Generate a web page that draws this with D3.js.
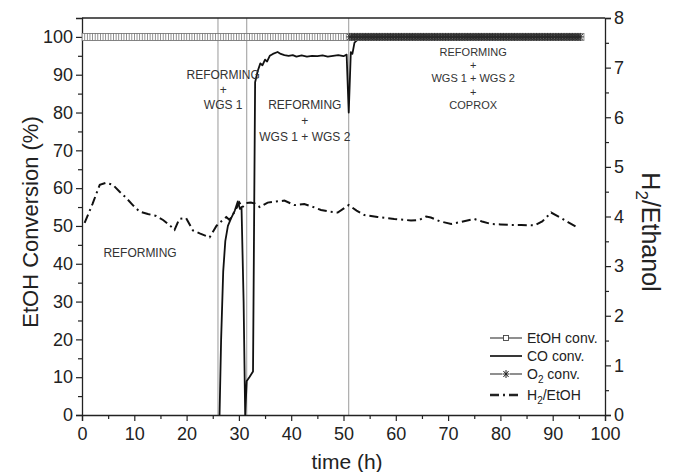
<!DOCTYPE html>
<html>
<head>
<meta charset="utf-8">
<script src="https://cdn.jsdelivr.net/npm/d3@7"></script>
<style>
  body { margin: 0; background: #fff; }
  text { font-family: "Liberation Sans", Arial, sans-serif; }
</style>
</head>
<body>
<div id="chart"></div>
<script>
// sampling times of the EtOH / O2 conversion markers (both sit at 100 %)
const etohTimes = d3.range(0.5, 95.6, 0.5);
const etohConv = etohTimes.map(() => 100);
const o2Times = d3.range(51.2, 95.6, 0.3);
const o2Conv = o2Times.map(() => 100);

// CO conversion (%)
const coTime = [26.3, 26.6, 27.0, 27.4, 27.9, 28.5, 29.2, 29.8, 30.2, 30.5, 30.9, 31.2, 31.5, 32.0, 32.7,
  33.1, 33.6, 34.1, 34.5, 35.0, 35.4, 35.9, 36.5, 37.4, 38.0, 38.7, 39.5, 40.3, 41.0, 42, 43, 44, 45, 46,
  47, 48, 49, 50, 50.6, 51.0, 51.4, 51.7, 52.1, 52.5, 53.0, 94];
const coConv = [0, 20, 38, 46, 50, 52, 54, 56.5, 54.5, 55, 30, 0, 9, 10, 11.5,
  88, 91, 93, 92.5, 94, 93.5, 95, 95.5, 96, 95.5, 95.2, 95, 95.2, 94.8, 95.1, 94.8, 95, 94.9, 95.1,
  94.8, 95, 95.2, 94.9, 95.3, 80, 96, 95.5, 98.5, 99, 100, 100];

// H2/EtOH ratio (right axis)
const h2Time = [0.5, 2.0, 3.4, 4.6, 5.9, 7.2, 8.5, 9.8, 11.0, 12.6, 14.2, 15.5, 16.7, 17.7, 18.6, 19.9,
  21.2, 22.5, 23.7, 24.4, 25.7, 26.6, 27.6, 28.2, 29.2, 30.1, 30.6, 31.4, 32.3, 33.1, 34.0, 35.5, 37.0,
  38.7, 40.6, 42.5, 44.0, 45.7, 47.3, 48.9, 51.0, 52.5, 54.0, 56.5, 59.7, 62.9, 64.5, 65.8, 66.7, 68.5,
  70.6, 72.5, 75.0, 76.5, 78.2, 80, 82.0, 84, 86.5, 88.0, 89.7, 91.6, 93.0, 94.4];
const h2Ratio = [3.87, 4.25, 4.64, 4.68, 4.64, 4.5, 4.37, 4.22, 4.10, 4.05, 4.01, 3.93, 3.83, 3.73, 3.95, 3.97,
  3.72, 3.66, 3.61, 3.58, 3.81, 3.9, 3.99, 3.93, 4.1, 4.28, 4.18, 4.27, 4.28, 4.26, 4.19, 4.28, 4.3,
  4.32, 4.23, 4.25, 4.2, 4.13, 4.1, 4.08, 4.23, 4.12, 4.03, 3.99, 3.95, 3.92, 3.93, 4.0, 3.98, 3.9,
  3.85, 3.89, 3.95, 3.9, 3.85, 3.84, 3.83, 3.83, 3.82, 3.9, 4.08, 3.97, 3.88, 3.80];

// stage boundaries (h)
const stageLines = [26, 31.5, 51];

// stage annotations (x in h, y in % of the first line's baseline)
const stageLabels = [
  {x: 11.1, y: 41.8, lines: ["REFORMING"], size: 12, gap: 15},
  {x: 27.0, y: 88.8, lines: ["REFORMING", "+", "WGS 1"], size: 12, gap: 15},
  {x: 42.6, y: 80.9, lines: ["REFORMING", "+", "WGS 1 + WGS 2"], size: 12, gap: 15.7},
  {x: 74.8, y: 95.0, lines: ["REFORMING", "+", "WGS 1 + WGS 2", "+", "COPROX"], size: 11, gap: 13.3}
];

const legendItems = ["EtOH conv.", "CO conv.", "O2 conv.", "H2/EtOH"];

const W = 677, H = 472;
const margin = {top: 18, right: 72, bottom: 57, left: 82};
const width = W - margin.left - margin.right,
      height = H - margin.top - margin.bottom;

const svg = d3.select("#chart").append("svg")
    .attr("width", W).attr("height", H);
const g = svg.append("g")
    .attr("transform", "translate(" + margin.left + "," + margin.top + ")");

const x = d3.scaleLinear().domain([0, 100]).range([0, width]);
const y = d3.scaleLinear().domain([0, 105]).range([height, 0]);
const y2 = d3.scaleLinear().domain([0, 8]).range([height, 0]);

// stage boundary lines
g.selectAll(".stage").data(stageLines).enter().append("line")
    .attr("x1", d => x(d)).attr("x2", d => x(d))
    .attr("y1", 0).attr("y2", height)
    .attr("stroke", "#9a9a9a").attr("stroke-width", 1);

// axes
function styleAxis(sel) {
  sel.select(".domain").attr("stroke", "#222").attr("stroke-width", 1.3);
  sel.selectAll(".tick line").attr("stroke", "#222").attr("stroke-width", 1.2);
  sel.selectAll(".tick text").attr("fill", "#222")
      .style("font-family", "Liberation Sans, Arial, sans-serif").style("font-size", "18px");
}

const xAxis = g.append("g").attr("transform", "translate(0," + height + ")")
    .call(d3.axisBottom(x).tickValues(d3.range(0, 101, 10)).tickSize(6).tickPadding(6));
g.append("g").attr("transform", "translate(0," + height + ")")
    .call(d3.axisBottom(x).tickValues(d3.range(5, 100, 10)).tickSize(4).tickFormat(""))
    .call(s => s.select(".domain").remove())
    .call(styleAxis);
styleAxis(xAxis);

const yAxis = g.append("g")
    .call(d3.axisLeft(y).tickValues(d3.range(0, 101, 10)).tickSize(6).tickPadding(3));
g.append("g")
    .call(d3.axisLeft(y).tickValues(d3.range(5, 101, 10)).tickSize(4).tickFormat(""))
    .call(s => s.select(".domain").remove())
    .call(styleAxis);
styleAxis(yAxis);

const yAxis2 = g.append("g").attr("transform", "translate(" + width + ",0)")
    .call(d3.axisRight(y2).tickValues(d3.range(0, 9, 1)).tickSize(6).tickPadding(3));
g.append("g").attr("transform", "translate(" + width + ",0)")
    .call(d3.axisRight(y2).tickValues(d3.range(0.5, 8, 1)).tickSize(4).tickFormat(""))
    .call(s => s.select(".domain").remove())
    .call(styleAxis);
styleAxis(yAxis2);

// top frame
g.append("line").attr("x1", 0).attr("x2", width).attr("y1", 0).attr("y2", 0)
    .attr("stroke", "#222").attr("stroke-width", 1.3);

// axis titles
svg.append("text")
    .attr("transform", "translate(38,222) rotate(-90)")
    .attr("text-anchor", "middle").attr("font-size", 22).attr("fill", "#222")
    .text("EtOH Conversion (%)");

const rt = svg.append("text")
    .attr("transform", "translate(642,232) rotate(90)")
    .attr("text-anchor", "middle").attr("font-size", 25).attr("fill", "#222");
rt.append("tspan").text("H");
rt.append("tspan").attr("dy", 6).attr("font-size", 17).text("2");
rt.append("tspan").attr("dy", -6).text("/Ethanol");

svg.append("text")
    .attr("x", 347).attr("y", 469)
    .attr("text-anchor", "middle").attr("font-size", 21).attr("fill", "#222")
    .text("time (h)");

// H2/EtOH dash-dot
const lineH2 = d3.line().x((d, i) => x(h2Time[i])).y(d => y2(d));
g.append("path").datum(h2Ratio)
    .attr("d", lineH2).attr("fill", "none")
    .attr("stroke", "#111").attr("stroke-width", 2)
    .attr("stroke-dasharray", "9,4,2,4");

// CO conversion
const lineCO = d3.line().x((d, i) => x(coTime[i])).y(d => y(d));
g.append("path").datum(coConv)
    .attr("d", lineCO).attr("fill", "none")
    .attr("stroke", "#111").attr("stroke-width", 1.8).attr("stroke-linejoin", "round");

// EtOH conversion squares
g.selectAll(".sq").data(etohConv).enter().append("rect")
    .attr("x", (d, i) => x(etohTimes[i]) - 2.5).attr("y", d => y(d) - 3.5)
    .attr("width", 5).attr("height", 7)
    .attr("fill", "#fff").attr("stroke", "#777").attr("stroke-width", 0.8);

// O2 conversion asterisks
const star = "M-3.5,0H3.5M0,-4V4M-2.6,-3L2.6,3M-2.6,3L2.6,-3";
g.selectAll(".st").data(o2Conv).enter().append("path")
    .attr("transform", (d, i) => "translate(" + x(o2Times[i]) + "," + y(d) + ")")
    .attr("d", star).attr("fill", "none").attr("stroke", "#2a2a2a").attr("stroke-width", 0.9);

// stage annotations
stageLabels.forEach(lab => {
  const t = g.append("text").attr("text-anchor", "middle")
      .attr("font-size", lab.size).attr("fill", "#333");
  lab.lines.forEach((ln, i) => {
    t.append("tspan").attr("x", x(lab.x))
        .attr("y", y(lab.y) + i * lab.gap).text(ln);
  });
});

// legend
const legendY = [338, 356, 374, 395];
const lg = svg.append("g").attr("transform", "translate(490,0)");
legendItems.forEach((name, i) => {
  const row = lg.append("g").attr("transform", "translate(0," + legendY[i] + ")");
  const ln = row.append("line").attr("x1", 0).attr("x2", 32).attr("y1", 0).attr("y2", 0)
      .attr("stroke", "#222");
  if (i === 0) {
    ln.attr("stroke", "#444").attr("stroke-width", 1.2);
    row.append("rect").attr("x", 13.5).attr("y", -2.5).attr("width", 5).attr("height", 5)
        .attr("fill", "#fff").attr("stroke", "#444").attr("stroke-width", 0.9);
  } else if (i === 1) {
    ln.attr("stroke-width", 1.8);
  } else if (i === 2) {
    ln.attr("stroke", "#444").attr("stroke-width", 1.2);
    row.append("rect").attr("x", 12).attr("y", -4).attr("width", 8).attr("height", 8).attr("fill", "#fff");
    row.append("path").attr("transform", "translate(16,0)").attr("d", star)
        .attr("fill", "none").attr("stroke", "#222").attr("stroke-width", 1);
  } else {
    ln.attr("stroke-width", 2.4).attr("stroke-dasharray", "9,4,2,4");
  }
  const t = row.append("text").attr("x", 37).attr("y", 5)
      .attr("font-size", 14).attr("fill", "#222");
  if (name.indexOf("2") === 1) {
    t.append("tspan").text(name.slice(0, 1));
    t.append("tspan").attr("dy", 4).attr("font-size", 10).text("2");
    t.append("tspan").attr("dy", -4).text(name === "O2 conv." ? " conv." : "/EtOH");
  } else {
    t.text(name);
  }
});
</script>
</body>
</html>
